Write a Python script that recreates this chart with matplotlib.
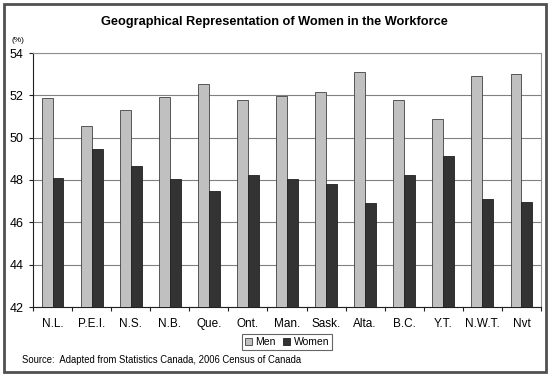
import numpy as np
import matplotlib
matplotlib.use("Agg")
import matplotlib.pyplot as plt
from matplotlib.patches import Rectangle

provinces = ['N.L.', 'P.E.I.', 'N.S.', 'N.B.', 'Que.', 'Ont.', 'Man.',
             'Sask.', 'Alta.', 'B.C.', 'Y.T.', 'N.W.T.', 'Nvt']
men = [51.89, 50.54, 51.33, 51.94, 52.52, 51.77, 51.97,
       52.17, 53.11, 51.77, 50.87, 52.91, 53.03]
women = [48.11, 49.46, 48.67, 48.06, 47.48, 48.23, 48.03,
         47.83, 46.89, 48.23, 49.13, 47.09, 46.97]
y_ticks = [42, 44, 46, 48, 50, 52, 54]

plt.rcParams['font.family'] = ['Liberation Sans', 'DejaVu Sans']

fig = plt.figure(figsize=(5.5, 3.76), dpi=100)
ax = fig.add_axes([33 / 550, 1 - 307 / 376, 508 / 550, 254 / 376])

x = np.arange(len(provinces))
w = 0.28
ax.bar(x - w / 2, np.array(men) - 42, w, bottom=42, color='#c0c0c0',
       edgecolor='#404040', linewidth=0.6, label='Men', zorder=3)
ax.bar(x + w / 2, np.array(women) - 42, w, bottom=42, color='#333333',
       edgecolor='#202020', linewidth=0.6, label='Women', zorder=3)

ax.set_xlim(-0.5, len(provinces) - 0.5)
ax.set_ylim(42, 54)
ax.set_yticks(y_ticks)
ax.set_yticklabels([str(v) for v in y_ticks], fontsize=9)
ax.yaxis.grid(True, color='#808080', linewidth=0.8, zorder=0)

# category labels centred, tick marks between groups
ax.set_xticks(np.arange(len(provinces) + 1) - 0.5)
ax.set_xticklabels([])
ax.set_xticks(x, minor=True)
ax.set_xticklabels(provinces, minor=True, fontsize=8.5)
ax.tick_params(axis='x', which='minor', length=0, pad=8)
ax.tick_params(axis='x', which='major', length=3, direction='out', color='#202020')
ax.tick_params(axis='y', length=3, direction='out', color='#202020', pad=4)

ax.spines['left'].set_color('#202020')
ax.spines['bottom'].set_color('#202020')
ax.spines['top'].set_color('#909090')
ax.spines['right'].set_color('#909090')

fig.text(274 / 550, 1 - 22 / 376, 'Geographical Representation of Women in the Workforce',
         ha='center', va='center', fontsize=9.15, fontweight='bold')
fig.text(11 / 550, 1 - 41 / 376, '(%)', ha='left', va='center', fontsize=6)
fig.text(22 / 550, 1 - 360 / 376,
         'Source:  Adapted from Statistics Canada, 2006 Census of Canada',
         ha='left', va='center', fontsize=6.85)

leg = fig.legend(loc='center', bbox_to_anchor=(287 / 550, 1 - 342 / 376), ncol=2,
                 fontsize=7.5, frameon=True, fancybox=False, handlelength=0.7,
                 handleheight=0.7, handletextpad=0.3, columnspacing=0.7,
                 borderpad=0.3, borderaxespad=0)
leg.get_frame().set_edgecolor('#404040')
leg.get_frame().set_linewidth(0.8)

fig.patches.append(Rectangle((4 / 550, 4 / 376), 1 - 8 / 550, 1 - 8 / 376,
                             transform=fig.transFigure, fill=False,
                             edgecolor='#505050', linewidth=2))

fig.savefig('out.png', dpi=100)
